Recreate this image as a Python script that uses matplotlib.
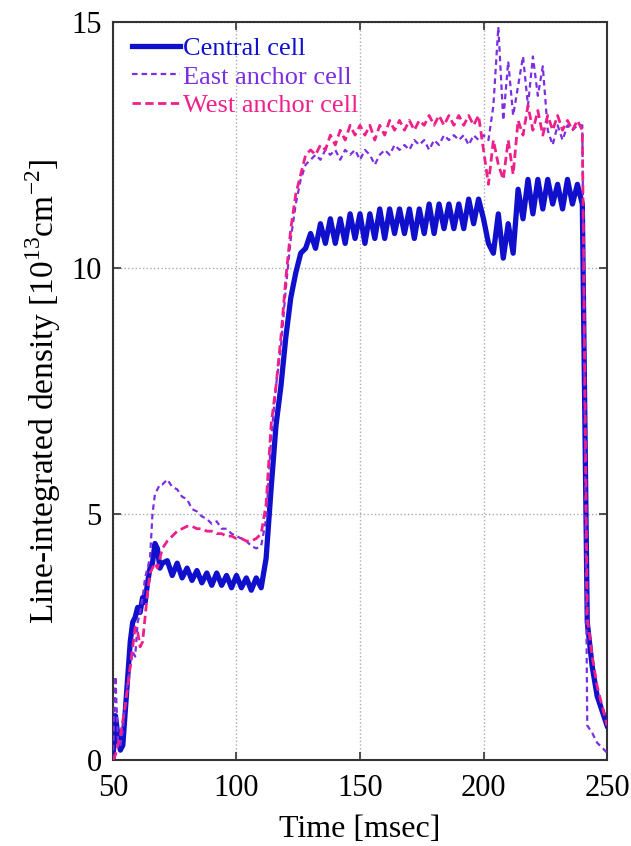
import numpy as np
import matplotlib
matplotlib.use('Agg')
import matplotlib.pyplot as plt

plt.rcParams['font.family'] = ['Liberation Serif', 'DejaVu Serif']
plt.rcParams['mathtext.fontset'] = 'custom'
plt.rcParams['mathtext.rm'] = 'Liberation Serif'

# time base: 1 ms steps during the start-up, 2 ms steps afterwards
t = np.concatenate([np.arange(50, 71, 1), np.arange(72, 251, 2)])

central = [0.0, 0.9, 0.5, 0.2, 0.3, 1.0, 1.7, 2.4, 2.8, 2.9, 3.1, 3.0, 3.3, 3.2, 3.6, 3.9, 4.0, 4.4, 4.3, 3.9, 4.0,
           4.05, 3.75, 4.0, 3.7, 3.9, 3.65, 3.85, 3.6, 3.8, 3.55, 3.8, 3.55, 3.75, 3.5, 3.75, 3.5, 3.7, 3.45, 3.7, 3.5,
           4.1, 5.5, 6.8, 7.6, 8.6, 9.4, 9.9, 10.3, 10.4, 10.7,
           10.4, 10.9, 10.5, 11.0, 10.5, 11.0, 10.5, 11.1, 10.6, 11.1, 10.5, 11.1, 10.6, 11.2, 10.6, 11.2, 10.7, 11.2,
           10.7, 11.2, 10.6, 11.2, 10.7, 11.3, 10.7, 11.3, 10.8, 11.3, 10.8, 11.3, 10.8, 11.4, 10.9, 11.4, 11.0,
           10.5, 10.3, 11.1, 10.2, 10.9, 10.3, 11.6, 11.0, 11.8, 11.1, 11.8, 11.2, 11.8, 11.3, 11.7, 11.2, 11.8, 11.3,
           11.7, 11.3,
           2.8, 1.9, 1.3, 1.0, 0.7]

east = [0.0, 1.7, 0.4, 0.3, 0.6, 1.2, 1.6, 1.9, 2.2, 2.1, 2.8, 3.0, 3.3, 3.7, 3.9, 4.1, 5.0, 5.4, 5.5, 5.6, 5.6,
        5.7, 5.55, 5.5, 5.35, 5.3, 5.1, 5.05, 4.95, 4.9, 4.8, 4.85, 4.7, 4.7, 4.6, 4.55, 4.5, 4.45, 4.35, 4.3, 4.35,
        4.9, 6.5, 7.6, 8.4, 9.6, 10.6, 11.3, 11.8, 12.1, 12.2,
        12.3, 12.2, 12.4, 12.3, 12.4, 12.2, 12.4, 12.3, 12.4, 12.2, 12.4, 12.3, 12.1, 12.3, 12.4, 12.3, 12.5, 12.4,
        12.5, 12.4, 12.6, 12.5, 12.6, 12.4, 12.6, 12.5, 12.7, 12.6, 12.7, 12.6, 12.7, 12.5, 12.7, 12.6, 12.7,
        12.6, 13.3, 14.9, 13.0, 14.2, 13.1, 13.7, 14.3, 13.3, 14.3, 13.5, 14.1, 12.8, 12.5, 12.9, 12.6, 12.9, 12.8,
        12.9, 12.9,
        0.7, 0.55, 0.35, 0.25, 0.15]

west = [0.0, 0.1, 0.3, 0.5, 0.8, 1.1, 1.5, 1.9, 2.3, 2.7, 2.6, 2.3, 2.4, 2.9, 3.4, 3.8, 3.9, 4.0, 3.9, 4.1, 4.3,
        4.45, 4.55, 4.65, 4.7, 4.75, 4.75, 4.7, 4.7, 4.65, 4.65, 4.6, 4.6, 4.55, 4.55, 4.5, 4.5, 4.45, 4.45, 4.5, 4.6,
        5.2, 6.8, 7.6, 8.6, 9.8, 10.8, 11.5, 11.9, 12.3, 12.4,
        12.3, 12.5, 12.4, 12.7, 12.5, 12.8, 12.6, 12.9, 12.7, 12.9, 12.7, 12.9, 12.6, 12.9, 12.7, 13.0, 12.8, 13.0,
        12.8, 13.0, 12.8, 13.0, 12.9, 13.1, 12.9, 13.1, 12.9, 13.1, 12.9, 13.1, 12.9, 13.1, 12.9, 13.1, 12.4,
        11.7, 12.6, 12.1, 11.8, 12.6, 11.9, 13.0, 12.7, 13.3, 12.8, 13.2, 12.7, 13.1, 12.8, 13.1, 12.8, 13.0, 12.8,
        13.0, 12.8,
        2.9, 2.1, 1.5, 1.1, 0.7]

c_blue = '#1010cc'
c_purple = '#7b2fe0'
c_pink = '#f0208a'

fig = plt.figure(figsize=(6.31, 8.46), dpi=100)
ax = fig.add_axes([0.179, 0.1017, 0.783, 0.8723])

ax.plot(t, central, color=c_blue, lw=3.8, label='Central cell', zorder=3)
ax.plot(t, east, color=c_purple, lw=1.6, ls=(0, (2.5, 1.8)), label='East anchor cell', zorder=4)
ax.plot(t, west, color=c_pink, lw=2.0, ls=(0, (3, 1.6)), label='West anchor cell', zorder=5)

ax.set_xlim(50, 250)
ax.set_ylim(0, 15)
ax.set_xticks([50, 100, 150, 200, 250])
ax.set_yticks([0, 5, 10, 15])
ax.grid(True, color='#aaaaaa', ls=':', lw=1.0)
ax.tick_params(direction='in', length=6, width=1.2, top=True, right=True,
               labelsize=22, color='#333333')
ax.tick_params(axis='x', pad=10)
ax.tick_params(axis='y', pad=8)
for s in ax.spines.values():
    s.set_color('#333333')
    s.set_linewidth(1.5)

ax.set_xlabel('Time [msec]', fontsize=23, labelpad=9)
ax.set_ylabel(r'Line-integrated density [10$^{13}$cm$^{-2}$]', fontsize=24, labelpad=6)

leg = ax.legend(loc='upper left', frameon=False, fontsize=19, handlelength=1.8,
                handletextpad=0.1, labelspacing=0.2, borderaxespad=0.15,
                bbox_to_anchor=(0.01, 1.0))
for txt, c in zip(leg.get_texts(), [c_blue, c_purple, c_pink]):
    txt.set_color(c)

fig.savefig('out.png', dpi=100)
